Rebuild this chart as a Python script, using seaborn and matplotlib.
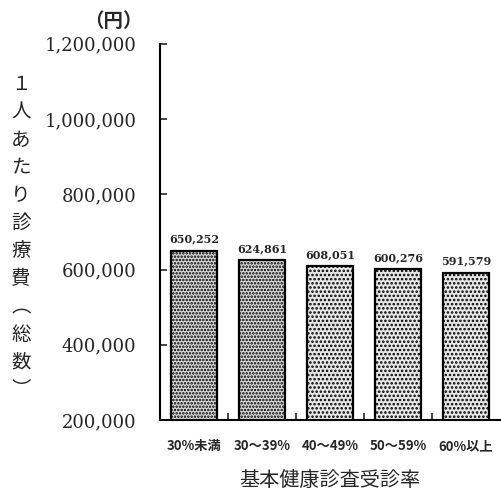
import pandas as pd
import numpy as np
from matplotlib import pyplot as plt
import seaborn as sns

# Data
categories = ['30%未満', '30～39%', '40～49%', '50～59%', '60%以上']
costs = [650252, 624861, 608051, 600276, 591579]
yticks = [200000, 400000, 600000, 800000, 1000000, 1200000]

df = pd.DataFrame({'rate': categories, 'cost': costs})

sns.set_style('white')
plt.rcParams['font.family'] = ['Noto Sans CJK JP', 'DejaVu Sans']
plt.rcParams['hatch.linewidth'] = 1.2

fig = plt.figure(figsize=(5.02, 4.95), dpi=100)
ax = fig.add_axes([0.319, 0.1515, 0.677, 0.76])

sns.barplot(data=df, x='rate', y='cost', color='white', edgecolor='black',
            linewidth=1.6, width=0.68, ax=ax)

# stippled fill, denser on the first two bars
for i, bar in enumerate(ax.patches):
    bar.set_hatch('.....' if i < 2 else '....')
    bar.set_facecolor('#d8d8d8' if i < 2 else '#e6e6e6')

ax.set_ylim(200000, 1200000)
ax.set_xlim(-0.5, 4.5)
ax.set_yticks(yticks)
ax.set_yticklabels([f'{v:,}' for v in yticks], family='DejaVu Serif', fontsize=13)
ax.set_xticks(range(len(categories)))
ax.set_xticklabels(categories, fontsize=9.5, fontweight='bold')
ax.tick_params(axis='y', direction='in', length=5, width=1.2, pad=17, left=True)
ax.tick_params(axis='x', length=0, pad=14)

# small marks on the baseline between groups
ax.set_xticks(np.arange(0.5, 4.5, 1), minor=True)
ax.tick_params(axis='x', which='minor', direction='in', length=5, width=1.2, bottom=True)

for s in ['top', 'right']:
    ax.spines[s].set_visible(False)
for s in ['left', 'bottom']:
    ax.spines[s].set_linewidth(1.5)
    ax.spines[s].set_color('black')

# value labels above bars
for i, v in enumerate(costs):
    ax.text(i, v + 16000, f'{v:,}', ha='center', va='bottom',
            family='DejaVu Serif', fontsize=8, fontweight='bold')

ax.set_xlabel('基本健康診査受診率', fontsize=14.5, labelpad=12)
ax.set_ylabel('')

fig.text(0.225, 0.956, '（円）', ha='center', va='center', fontsize=14, fontweight='bold')
fig.text(0.042, 0.521, '\n'.join('１人あたり診療費︵総数︶'), ha='center', va='center',
         fontsize=14, linespacing=1.42)

fig.savefig('out.png', dpi=100)
